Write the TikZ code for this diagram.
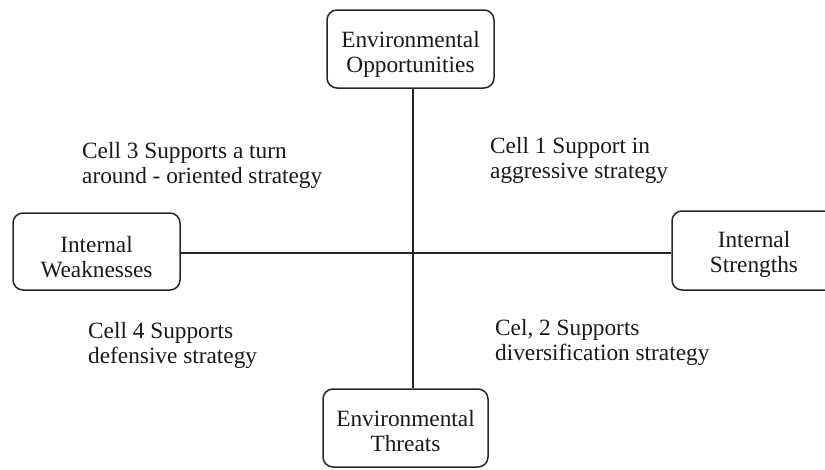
\documentclass[tikz,border=0pt]{standalone}
\usepackage{fontspec}
\setmainfont{Liberation Serif}
\newfontfamily\timesface{Liberation Serif}
\newcommand\firstlinestrut[1]{\rule{0pt}{#1}}
\begin{document}
\begin{tikzpicture}[x=1pt,y=-1pt,
  txt/.style={font=\timesface\fontsize{23.3}{25}\selectfont, text=black!90},
  boxnode/.style={txt, draw=black!85, line width=1.5pt, rounded corners=10pt, align=center, inner sep=0pt},
  label/.style={txt, align=left, anchor=base west, inner sep=0pt},
  axis/.style={draw=black!85}]
\useasboundingbox (0,0) rectangle (825,469);
\node[boxnode, minimum width=167pt, minimum height=78pt] (top) at (410.5,49) {\firstlinestrut{26pt}Environmental\\Opportunities};
\node[boxnode, minimum width=167pt, minimum height=77pt] (left) at (96.5,251.5) {\firstlinestrut{28pt}Internal\\Weaknesses};
\node[boxnode, minimum width=164pt, minimum height=79pt] (right) at (754,250.5) {\firstlinestrut{24pt}Internal\\Strengths};
\node[boxnode, minimum width=165pt, minimum height=78pt] (bot) at (405.5,428) {\firstlinestrut{22pt}Environmental\\Threats};
\coordinate (c) at (413,253);
\draw[axis, line width=2pt] (c |- top.south) -- (c |- bot.north);
\draw[axis, line width=1.4pt] (left.east |- c) -- (right.west |- c);
\node[label] (cell3) at (82,183) {Cell 3 Supports a turn\\around - oriented strategy};
\node[label] (cell1) at (490,178) {Cell 1 Support in\\aggressive strategy};
\node[label] (cell4) at (88,363) {Cell 4 Supports\\defensive strategy};
\node[label] (cell2) at (495,360) {Cel, 2 Supports\\diversification strategy};
\end{tikzpicture}
\end{document}
